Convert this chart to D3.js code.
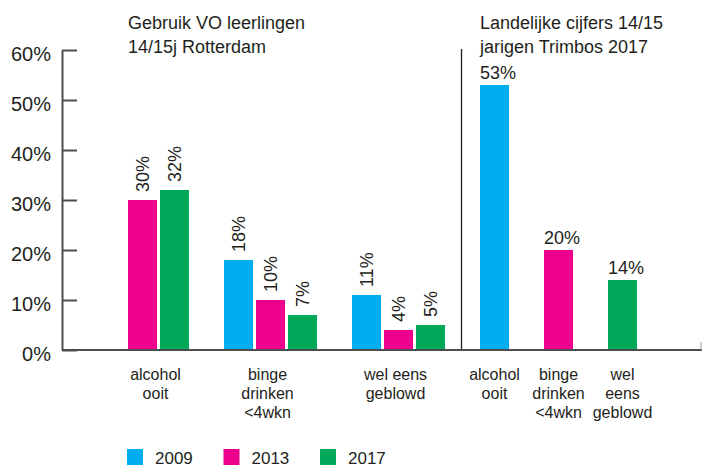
<!DOCTYPE html>
<html>
<head>
<meta charset="utf-8">
<script src="https://cdn.jsdelivr.net/npm/d3@7"></script>
<style>
  body { margin: 0; background: #fff; }
  text { font-family: "Liberation Sans", Arial, sans-serif; fill: #231f20; }
</style>
</head>
<body>
<div id="viz-container"></div>
<script>
// data
let years = ["2009", "2013", "2017"];
let colors = ["#00aeef", "#ec008c", "#00a859"];

let leftCats = [["alcohol", "ooit"], ["binge", "drinken", "<4wkn"], ["wel eens", "geblowd"]];
let leftValues = [
  [null, 30, 32],
  [18, 10, 7],
  [11, 4, 5]
];

let rightCats = [["alcohol", "ooit"], ["binge", "drinken", "<4wkn"], ["wel", "eens", "geblowd"]];
let rightValues = [53, 20, 14];
let rightYear = [0, 1, 2]; // which colour each bar uses

let yTicks = [0, 10, 20, 30, 40, 50, 60];
let leftTitle = ["Gebruik VO leerlingen", "14/15j Rotterdam"];
let rightTitle = ["Landelijke cijfers 14/15", "jarigen Trimbos 2017"];

let viz = d3.select("#viz-container")
              .append("svg")
                .attr("width", 702)
                .attr("height", 468);

let y = d3.scaleLinear().domain([0, 60]).range([350, 50]);

// left grouped bars
let xGroup = d3.scaleBand().domain(d3.range(leftCats.length)).range([96, 480]);
let xYear = d3.scaleBand().domain(years).range([0, 93]).paddingInner(3 / 32);

// right single bars
let xRight = d3.scaleBand().domain(d3.range(rightCats.length)).range([480, 637]).paddingInner(35 / 64);

// y axis
let yAxis = d3.axisLeft(y)
  .tickValues(yTicks)
  .tickFormat(d => d + "%")
  .tickSizeInner(-15)
  .tickSizeOuter(0)
  .tickPadding(11);

let gy = viz.append("g").attr("transform", "translate(62,0)").call(yAxis);
gy.select(".domain").attr("stroke", "#4d4d4d").attr("stroke-width", 2);
gy.selectAll(".tick line").attr("stroke", "#4d4d4d").attr("stroke-width", 2);
gy.selectAll(".tick text")
  .attr("font-size", 20)
  .attr("font-family", "Liberation Sans, Arial, sans-serif")
  .attr("fill", "#231f20")
  .attr("dy", "0.5em");

// separator
viz.append("line")
  .attr("x1", 461.5).attr("x2", 461.5)
  .attr("y1", 49).attr("y2", 350)
  .attr("stroke", "#231f20").attr("stroke-width", 1.3);

// left bars
let leftBars = [];
leftValues.forEach((row, gi) => {
  row.forEach((v, yi) => {
    if (v !== null) leftBars.push({ g: gi, year: years[yi], c: colors[yi], v: v });
  });
});

viz.selectAll(".lbar").data(leftBars).enter().append("rect")
  .attr("class", "lbar")
  .attr("x", d => xGroup(d.g) + xYear(d.year))
  .attr("y", d => y(d.v))
  .attr("width", xYear.bandwidth())
  .attr("height", d => y(0) - y(d.v))
  .attr("fill", d => d.c);

viz.selectAll(".lval").data(leftBars).enter().append("text")
  .attr("class", "lval")
  .attr("transform", d => "translate(" + (xGroup(d.g) + xYear(d.year) + xYear.bandwidth() / 2) + "," + (y(d.v) - 8) + ") rotate(-90)")
  .attr("dy", "0.35em")
  .attr("font-size", 18)
  .text(d => d.v + "%");

// right bars
viz.selectAll(".rbar").data(rightValues).enter().append("rect")
  .attr("class", "rbar")
  .attr("x", (d, i) => xRight(i))
  .attr("y", d => y(d))
  .attr("width", xRight.bandwidth())
  .attr("height", d => y(0) - y(d))
  .attr("fill", (d, i) => colors[rightYear[i]]);

viz.selectAll(".rval").data(rightValues).enter().append("text")
  .attr("class", "rval")
  .attr("x", (d, i) => xRight(i))
  .attr("y", d => y(d) - 6)
  .attr("font-size", 18)
  .text(d => d + "%");

// baseline
viz.append("line")
  .attr("x1", 62).attr("x2", 702)
  .attr("y1", y(0)).attr("y2", y(0))
  .attr("stroke", "#4d4d4d").attr("stroke-width", 2);
viz.append("line")
  .attr("x1", 701).attr("x2", 701)
  .attr("y1", y(0) - 8).attr("y2", y(0))
  .attr("stroke", "#999").attr("stroke-width", 1);

// category labels
function leftCenter(gi) {
  let present = leftValues[gi].map((v, yi) => v === null ? null : xGroup(gi) + xYear(years[yi]) + xYear.bandwidth() / 2)
                              .filter(v => v !== null);
  return (d3.min(present) + d3.max(present)) / 2 - 3;
}

function catLabel(lines, cx) {
  let t = viz.append("text")
    .attr("text-anchor", "middle")
    .attr("font-size", 16);
  lines.forEach((l, i) => {
    t.append("tspan").attr("x", cx).attr("y", 380 + i * 19).text(l);
  });
}

leftCats.forEach((c, i) => catLabel(c, leftCenter(i)));
rightCats.forEach((c, i) => catLabel(c, xRight(i) + xRight.bandwidth() / 2));

// titles
function title(lines, x0) {
  let t = viz.append("text").attr("font-size", 18);
  lines.forEach((l, i) => {
    t.append("tspan").attr("x", x0).attr("y", 29 + i * 24).text(l);
  });
}
title(leftTitle, 128);
title(rightTitle, 480);

// legend
let legend = viz.selectAll(".leg").data(years).enter().append("g")
  .attr("class", "leg")
  .attr("transform", (d, i) => "translate(" + (127 + i * 96.5) + ",449)");
legend.append("rect").attr("width", 16).attr("height", 16).attr("fill", (d, i) => colors[i]);
legend.append("text").attr("x", 28).attr("y", 15).attr("font-size", 17).text(d => d);
</script>
</body>
</html>
